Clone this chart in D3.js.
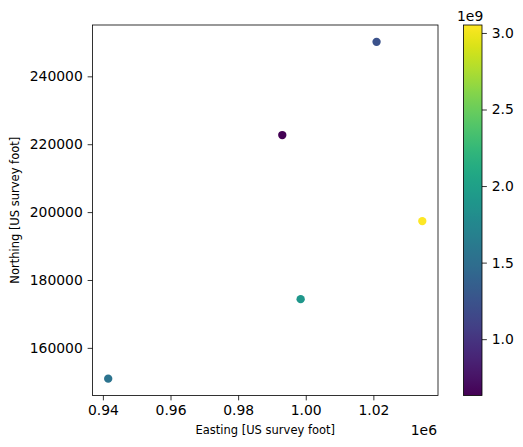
<!DOCTYPE html>
<html>
<head>
<meta charset="utf-8">
<script src="https://cdn.jsdelivr.net/npm/d3@7"></script>
<style>
  html, body { margin: 0; padding: 0; background: #fff; }
  svg { display: block; font-family: "DejaVu Sans", sans-serif; }
</style>
</head>
<body>
<svg id="chart" width="523" height="447"></svg>
<script>
const easting = [1020945, 993058, 1034469, 998493, 941573];
const northing = [250161, 222697, 197347, 174355, 150930];
const values = [1.237e9, 0.632e9, 3.052e9, 1.91e9, 1.55e9];
const xTicks = [940000, 960000, 980000, 1000000, 1020000];
const yTicks = [160000, 180000, 200000, 220000, 240000];
const cTicks = [1.0e9, 1.5e9, 2.0e9, 2.5e9, 3.0e9];

const svg = d3.select("#chart");
const plot = {left: 92.5, right: 438, top: 25, bottom: 395.5};
const cbar = {left: 463.5, right: 482, top: 25, bottom: 395.5};

function padded(ext) {
  const d = (ext[1] - ext[0]) * 0.05;
  return [ext[0] - d, ext[1] + d];
}
const x = d3.scaleLinear().domain(padded(d3.extent(easting))).range([plot.left, plot.right]);
const y = d3.scaleLinear().domain(padded(d3.extent(northing))).range([plot.bottom, plot.top]);
const cExt = d3.extent(values);
const color = d3.scaleSequential(d3.interpolateViridis).domain(cExt);
const cy = d3.scaleLinear().domain(cExt).range([cbar.bottom, cbar.top]);

const tickFont = "13.9px";

// axes
const xAxis = d3.axisBottom(x).tickValues(xTicks).tickSize(4.86).tickPadding(4.86)
  .tickFormat(d => (d / 1e6).toFixed(2));
const gx = svg.append("g").attr("transform", `translate(0,${plot.bottom})`).call(xAxis);
const yAxis = d3.axisLeft(y).tickValues(yTicks).tickSize(4.86).tickPadding(4.86)
  .tickFormat(d3.format("d"));
const gy = svg.append("g").attr("transform", `translate(${plot.left},0)`).call(yAxis);
[gx, gy].forEach(g => {
  g.select(".domain").remove();
  g.selectAll("text").attr("font-size", tickFont).attr("font-family", "DejaVu Sans").attr("fill", "#000");
  g.selectAll("line").attr("stroke", "#000").attr("stroke-width", 0.8);
});

// frame
svg.append("rect").attr("x", plot.left).attr("y", plot.top)
  .attr("width", plot.right - plot.left).attr("height", plot.bottom - plot.top)
  .attr("fill", "none").attr("stroke", "#000").attr("stroke-width", 0.8);

// points
svg.append("g").selectAll("circle").data(easting.map((e, i) => ({e, n: northing[i], v: values[i]})))
  .join("circle")
  .attr("cx", d => x(d.e)).attr("cy", d => y(d.n)).attr("r", 4.17)
  .attr("fill", d => color(d.v));

// labels
svg.append("text").attr("x", (plot.left + plot.right) / 2).attr("y", 434)
  .attr("text-anchor", "middle").attr("font-size", "11.5px").text("Easting [US survey foot]");
svg.append("text").attr("transform", `translate(19,${(plot.top + plot.bottom) / 2}) rotate(-90)`)
  .attr("text-anchor", "middle").attr("font-size", "11.5px").text("Northing [US survey foot]");
svg.append("text").attr("x", plot.right - 1).attr("y", 435)
  .attr("text-anchor", "end").attr("font-size", tickFont).text("1e6");

// colorbar
const defs = svg.append("defs");
const grad = defs.append("linearGradient").attr("id", "vir").attr("x1", 0).attr("y1", 1).attr("x2", 0).attr("y2", 0);
d3.range(0, 1.0001, 0.02).forEach(t => {
  grad.append("stop").attr("offset", t).attr("stop-color", d3.interpolateViridis(t));
});
svg.append("rect").attr("x", cbar.left).attr("y", cbar.top)
  .attr("width", cbar.right - cbar.left).attr("height", cbar.bottom - cbar.top)
  .attr("fill", "url(#vir)").attr("stroke", "#000").attr("stroke-width", 0.8);
const cAxis = d3.axisRight(cy).tickValues(cTicks).tickSize(4.86).tickPadding(4.86)
  .tickFormat(d => (d / 1e9).toFixed(1));
const gc = svg.append("g").attr("transform", `translate(${cbar.right},0)`).call(cAxis);
gc.select(".domain").remove();
gc.selectAll("text").attr("font-size", tickFont).attr("font-family", "DejaVu Sans").attr("fill", "#000");
gc.selectAll("line").attr("stroke", "#000").attr("stroke-width", 0.8);
svg.append("text").attr("x", 457).attr("y", 21)
  .attr("text-anchor", "start").attr("font-size", tickFont).text("1e9");
</script>
</body>
</html>
